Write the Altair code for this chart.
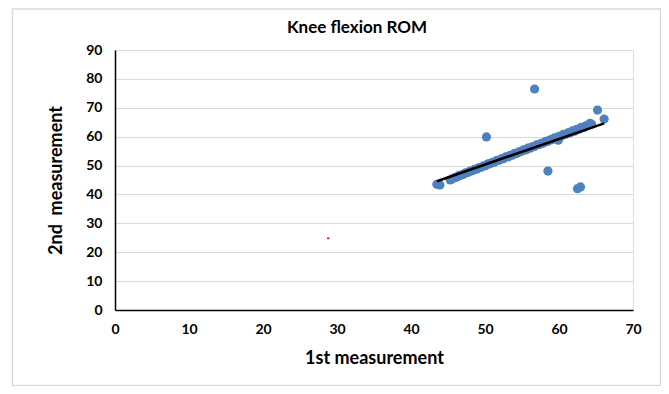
import altair as alt
import pandas as pd

# 1st and 2nd measurements (knee flexion ROM, degrees)
first = [43.5, 43.9, 45.3, 45.6, 45.9, 46.2, 46.5, 46.8, 47.1, 47.4, 47.7, 48.0,
         48.3, 48.6, 48.9, 49.2, 49.5, 49.8, 50.1, 50.4, 50.7, 51.0, 51.3, 51.6,
         51.9, 52.2, 52.5, 52.8, 53.1, 53.4, 53.7, 54.0, 54.3, 54.6, 54.9, 55.2,
         55.5, 55.8, 56.1, 56.4, 56.7, 57.0, 57.3, 57.6, 57.9, 58.2, 58.5, 58.8,
         59.1, 59.4, 59.7, 59.9, 60.0, 60.3, 60.6, 60.9, 61.2, 61.5, 61.8, 62.1,
         62.4, 62.7, 63.0, 63.3, 63.6, 63.9, 64.2, 64.4,
         50.2, 56.7, 58.5, 62.5, 62.9, 65.2, 66.1]
second = [43.5, 43.3, 45.0, 45.4, 45.8, 46.0, 46.6, 46.7, 47.0, 47.5, 47.6, 48.1,
          48.2, 48.7, 48.8, 49.3, 49.4, 49.9, 50.0, 50.6, 50.6, 51.1, 51.2, 51.8,
          51.8, 52.3, 52.4, 53.0, 53.0, 53.5, 53.6, 54.2, 54.2, 54.7, 54.9, 55.4,
          55.4, 56.0, 56.0, 56.5, 56.6, 57.2, 57.2, 57.7, 57.8, 58.4, 58.4, 58.9,
          59.0, 59.6, 59.6, 58.8, 60.1, 60.2, 60.8, 60.8, 61.3, 61.4, 62.0, 61.9,
          62.5, 62.6, 63.2, 63.1, 63.7, 63.8, 64.6, 64.3,
          59.9, 76.5, 48.1, 42.0, 42.6, 69.2, 66.1]

# stray red marker
stray_x = [28.8]
stray_y = [24.8]

x_ticks = [0, 10, 20, 30, 40, 50, 60, 70]
y_ticks = [0, 10, 20, 30, 40, 50, 60, 70, 80, 90]

df = pd.DataFrame({"first": first, "second": second})
stray = pd.DataFrame({"first": stray_x, "second": stray_y})

FONT = "Lato"

x_axis = alt.Axis(values=x_ticks, title="1st measurement", grid=False, tickCount=8,
                  ticks=False, domainColor="black", domainWidth=1.5,
                  labelFontSize=14, labelFontWeight="bold", labelPadding=12,
                  labelColor="black", labelFlush=False, labelOverlap=False,
                  titleFontSize=18, titleFontWeight="bold",
                  titleColor="black", titleBaseline="alphabetic", titleY=53,
                  labelFont=FONT, titleFont=FONT)
y_axis = alt.Axis(values=y_ticks, title="2nd\u00a0 measurement", grid=True, tickCount=10,
                  gridColor="#D9D9D9", gridWidth=1.2, ticks=False,
                  domainColor="black", domainWidth=1.5,
                  labelFontSize=14, labelFontWeight="bold", labelPadding=13,
                  labelColor="black", labelFlush=False, labelOverlap=False,
                  titleFontSize=18, titleFontWeight="bold",
                  titleColor="black", titleBaseline="alphabetic", titleX=-54,
                  labelFont=FONT, titleFont=FONT)

x_scale = alt.Scale(domain=[0, 70], nice=False)
y_scale = alt.Scale(domain=[0, 90], nice=False)

def xe():
    return alt.X("first:Q", scale=x_scale, axis=x_axis)

def ye():
    return alt.Y("second:Q", scale=y_scale, axis=y_axis)

frame = alt.Chart(stray).mark_rect(fill="transparent", stroke="#D9D9D9", strokeWidth=1.5).encode(
    x=alt.value(-102.5), x2=alt.value(545.5), y=alt.value(-41), y2=alt.value(335.5)
)

points = alt.Chart(df).mark_circle(size=85, color="#4F81BD", opacity=1).encode(
    x=xe(), y=ye()
)

trend = alt.Chart(df).transform_regression("first", "second").mark_line(
    color="black", strokeWidth=2.5
).encode(x=xe(), y=ye())

red = alt.Chart(stray).mark_circle(size=5, color="red", opacity=1).encode(
    x=xe(), y=ye()
)

chart = alt.layer(frame, points, trend, red).properties(
    width=518, height=260,
    title=alt.TitleParams("Knee flexion ROM", fontSize=17, fontWeight="bold", font=FONT,
                          color="black", anchor="middle", dx=-17, offset=0, dy=42,
                          baseline="alphabetic", frame="group"),
    autosize=alt.AutoSizeParams(type="none"),
    padding={"left": 107, "top": 42, "right": 28, "bottom": 76},
).configure_view(stroke=None).configure(background="white")

chart.save("out.html", embed_options={"renderer": "svg", "actions": False})
